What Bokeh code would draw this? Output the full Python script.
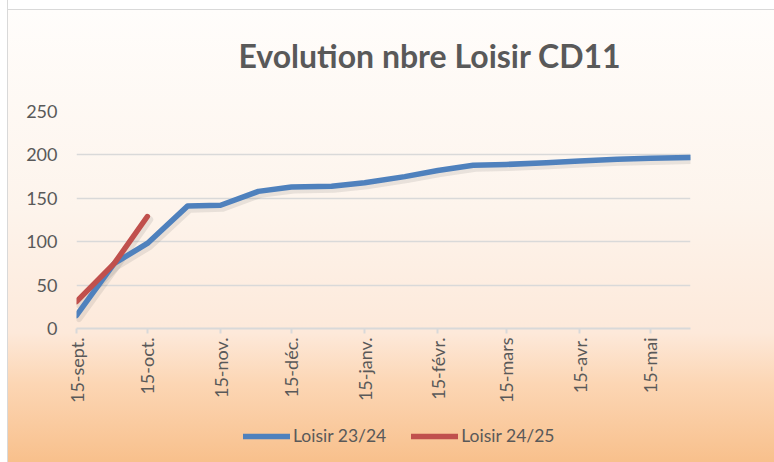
import math
import pandas as pd
from bokeh.plotting import figure
from bokeh.layouts import column
from bokeh.models import Range1d, FixedTicker, Legend, LegendItem, ColumnDataSource, Title
from bokeh.transform import dodge
from bokeh.embed import file_html
from bokeh.resources import INLINE

# ---- data ----
season_dates = ["2023-09-15", "2023-10-01", "2023-10-15", "2023-11-01", "2023-11-15",
                "2023-12-01", "2023-12-15", "2024-01-01", "2024-01-15", "2024-02-01",
                "2024-02-15", "2024-03-01", "2024-03-15", "2024-04-01", "2024-04-15",
                "2024-05-01", "2024-05-15", "2024-06-01"]
loisir_2324 = [15, 75, 98, 141, 142, 158, 163, 164, 168, 175, 182, 188, 189, 191, 193, 195, 196, 197]
loisir_2425 = [31, 75, 129]  # aligned with the first season dates

tick_dates = ["2023-09-15", "2023-10-15", "2023-11-15", "2023-12-15", "2024-01-15",
              "2024-02-15", "2024-03-15", "2024-04-15", "2024-05-15"]
tick_labels = ["15-sept.", "15-oct.", "15-nov.", "15-déc.", "15-janv.",
               "15-févr.", "15-mars", "15-avr.", "15-mai"]
y_ticks = [0, 50, 100, 150, 200, 250]
series_names = ["Loisir 23/24", "Loisir 24/25"]
title_text = "Evolution nbre Loisir CD11"

start = pd.Timestamp(season_dates[0])
days = [(pd.Timestamp(d) - start).days for d in season_dates]
tick_days = [(pd.Timestamp(d) - start).days for d in tick_dates]

src_a = ColumnDataSource(dict(x=days, y=loisir_2324))
src_b = ColumnDataSource(dict(x=days[:len(loisir_2425)], y=loisir_2425))

TEXT = "#595959"
GRID = "#d9d9d9"
FONT = "Lato"
BLUE = "#4f81bd"
RED = "#c0504d"

p = figure(width=774, height=412, output_backend="svg", toolbar_location=None,
           x_range=Range1d(0, days[-1]), y_range=Range1d(0, 250),
           min_border_left=76, min_border_right=84, min_border_top=111, min_border_bottom=84)
p.background_fill_color = None
p.border_fill_color = None
p.outline_line_color = None

p.title = Title(text=title_text, align="left", offset=162, vertical_align="top", standoff=70,
                text_font=FONT, text_font_size="32px", text_font_style="bold", text_color=TEXT)

# axes
xa = p.xaxis[0]
xa.ticker = FixedTicker(ticks=tick_days)
xa.major_label_overrides = {d: lab for d, lab in zip(tick_days, tick_labels)}
xa.major_label_orientation = math.pi / 2
xa.axis_line_color = GRID
xa.axis_line_width = 2
xa.major_tick_line_color = GRID
xa.major_tick_line_width = 2
xa.major_tick_out = 5
xa.major_tick_in = 0
xa.minor_tick_line_color = None
xa.major_label_text_font = FONT
xa.major_label_text_font_size = "18px"
xa.major_label_text_color = TEXT
xa.major_label_standoff = 4

ya = p.yaxis[0]
ya.ticker = FixedTicker(ticks=y_ticks)
ya.axis_line_color = None
ya.major_tick_line_color = None
ya.minor_tick_line_color = None
ya.major_tick_out = 0
ya.major_tick_in = 0
ya.major_label_standoff = 19
ya.major_label_text_font = FONT
ya.major_label_text_font_size = "18px"
ya.major_label_text_color = TEXT

p.xgrid.grid_line_color = None
p.ygrid.grid_line_color = GRID
p.ygrid.grid_line_width = 1.5

# soft shadows under the lines
for src in (src_a, src_b):
    p.line(x=dodge("x", 1, range=p.x_range), y=dodge("y", -3.5, range=p.y_range), source=src,
           line_color="#555555", line_alpha=0.12, line_width=7,
           line_cap="round", line_join="round")

line_style = dict(line_width=5.5, line_cap="round", line_join="round")
p.line("x", "y", source=src_a, line_color=BLUE, **line_style)
p.line("x", "y", source=src_b, line_color=RED, **line_style)

# ---- legend strip (separate small figure; its frame aligns with the chart's frame) ----
q = figure(width=774, height=50, output_backend="svg", toolbar_location=None,
           x_range=Range1d(0, 1), y_range=Range1d(-2, -1),
           x_axis_location=None, y_axis_location=None,
           min_border_left=0, min_border_right=0, min_border_top=0, min_border_bottom=0)
q.background_fill_color = None
q.border_fill_color = None
q.outline_line_color = None
q.grid.grid_line_color = None
# same series, outside this strip's ranges: only their legend swatches show
la = q.line("x", "y", source=src_a, line_color=BLUE, **line_style)
lb = q.line("x", "y", source=src_b, line_color=RED, **line_style)

legend = Legend(items=[LegendItem(label=series_names[0], renderers=[la]),
                       LegendItem(label=series_names[1], renderers=[lb])],
                location=(167, 16), orientation="horizontal",
                background_fill_alpha=0, border_line_color=None,
                glyph_width=47, glyph_height=20, label_standoff=3, spacing=25,
                padding=0, margin=0,
                label_text_font=FONT, label_text_font_size="17.5px", label_text_color=TEXT)
q.add_layout(legend, "center")

page = column(p, q, spacing=0)
page.styles = {"background": (
    "linear-gradient(to right, #ffffff 0px, #ffffff 7px, #d9d9d9 7px, #d9d9d9 8px, rgba(255,255,255,0) 8px),"
    "linear-gradient(to bottom, #ffffff 0px, #ffffff 9px, #d9d9d9 9px, #d9d9d9 10px, #fffdfb 10px, "
    "#fdf4ec 45%, #fde9da 72%, #fcd6b4 83%, #f8c08c 100%)")}

open("out.html", "w").write(file_html(page, INLINE))
